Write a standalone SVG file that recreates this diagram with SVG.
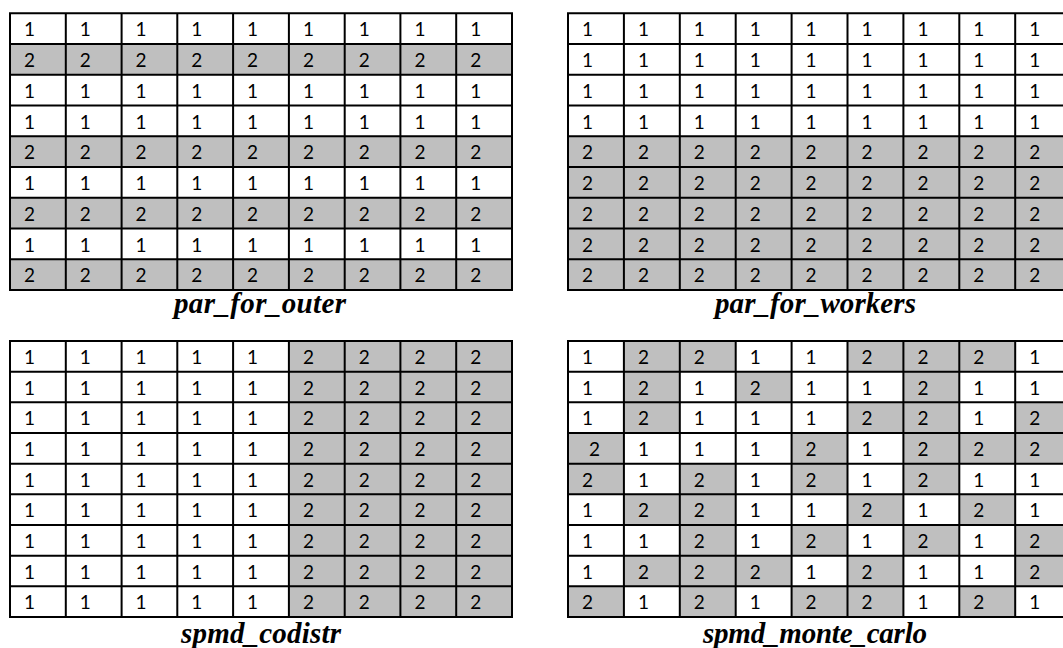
<svg xmlns="http://www.w3.org/2000/svg" width="1063" height="648" viewBox="0 0 1063 648">
<style>
.g{fill:#BFBFBF}
.ln{fill:none;stroke:#000;stroke-width:2;stroke-linecap:square}
.t{font-family:Lato,"Liberation Sans",sans-serif;font-size:19px;fill:#000}
.lb{font-family:"Liberation Serif","Times New Roman",serif;font-size:29px;font-weight:bold;font-style:italic;fill:#000}
</style>
<rect width="1063" height="648" fill="#fff"/>

<g id="grid-par-for-outer">
<rect class="g" x="10" y="44.0" width="502" height="30.8"/>
<rect class="g" x="10" y="136.3" width="502" height="30.7"/>
<rect class="g" x="10" y="197.7" width="502" height="30.8"/>
<rect class="g" x="10" y="259.2" width="502" height="30.8"/>
<path class="ln" d="M10 13.3V290M65.8 13.3V290M121.6 13.3V290M177.3 13.3V290M233.1 13.3V290M288.9 13.3V290M344.7 13.3V290M400.4 13.3V290M456.2 13.3V290M512 13.3V290M10 13.3H512M10 44H512M10 74.8H512M10 105.5H512M10 136.3H512M10 167H512M10 197.7H512M10 228.5H512M10 259.2H512M10 290H512"/>
<g class="t">
<text x="24 79.8 135.6 191.3 247.1 302.9 358.7 414.4 470.2" y="36.3">111111111</text>
<text x="24 79.8 135.6 191.3 247.1 302.9 358.7 414.4 470.2" y="67">222222222</text>
<text x="24 79.8 135.6 191.3 247.1 302.9 358.7 414.4 470.2" y="97.8">111111111</text>
<text x="24 79.8 135.6 191.3 247.1 302.9 358.7 414.4 470.2" y="128.5">111111111</text>
<text x="24 79.8 135.6 191.3 247.1 302.9 358.7 414.4 470.2" y="159.3">222222222</text>
<text x="24 79.8 135.6 191.3 247.1 302.9 358.7 414.4 470.2" y="190">111111111</text>
<text x="24 79.8 135.6 191.3 247.1 302.9 358.7 414.4 470.2" y="220.7">222222222</text>
<text x="24 79.8 135.6 191.3 247.1 302.9 358.7 414.4 470.2" y="251.5">111111111</text>
<text x="24 79.8 135.6 191.3 247.1 302.9 358.7 414.4 470.2" y="282.2">222222222</text>
</g>
<text class="lb" x="174" y="313" textLength="172" lengthAdjust="spacing">par_for_outer</text>
</g>

<g id="grid-par-for-workers">
<rect class="g" x="568" y="136.3" width="503" height="153.7"/>
<path class="ln" d="M568 13.3V290M623.9 13.3V290M679.8 13.3V290M735.7 13.3V290M791.6 13.3V290M847.5 13.3V290M903.4 13.3V290M959.3 13.3V290M1015.2 13.3V290M1071.1 13.3V290M568 13.3H1071.1M568 44H1071.1M568 74.8H1071.1M568 105.5H1071.1M568 136.3H1071.1M568 167H1071.1M568 197.7H1071.1M568 228.5H1071.1M568 259.2H1071.1M568 290H1071.1"/>
<g class="t">
<text x="582 637.9 693.8 749.7 805.6 861.5 917.4 973.3 1029.2" y="36.3">111111111</text>
<text x="582 637.9 693.8 749.7 805.6 861.5 917.4 973.3 1029.2" y="67">111111111</text>
<text x="582 637.9 693.8 749.7 805.6 861.5 917.4 973.3 1029.2" y="97.8">111111111</text>
<text x="582 637.9 693.8 749.7 805.6 861.5 917.4 973.3 1029.2" y="128.5">111111111</text>
<text x="582 637.9 693.8 749.7 805.6 861.5 917.4 973.3 1029.2" y="159.3">222222222</text>
<text x="582 637.9 693.8 749.7 805.6 861.5 917.4 973.3 1029.2" y="190">222222222</text>
<text x="582 637.9 693.8 749.7 805.6 861.5 917.4 973.3 1029.2" y="220.7">222222222</text>
<text x="582 637.9 693.8 749.7 805.6 861.5 917.4 973.3 1029.2" y="251.5">222222222</text>
<text x="582 637.9 693.8 749.7 805.6 861.5 917.4 973.3 1029.2" y="282.2">222222222</text>
</g>
<text class="lb" x="715" y="313" textLength="201" lengthAdjust="spacing">par_for_workers</text>
</g>

<g id="grid-spmd-codistr">
<rect class="g" x="288.9" y="341" width="223.1" height="276"/>
<path class="ln" d="M10 341V617M65.8 341V617M121.6 341V617M177.3 341V617M233.1 341V617M288.9 341V617M344.7 341V617M400.4 341V617M456.2 341V617M512 341V617M10 341H512M10 371.7H512M10 402.3H512M10 433H512M10 463.7H512M10 494.3H512M10 525H512M10 555.7H512M10 586.3H512M10 617H512"/>
<g class="t">
<text x="24 79.8 135.6 191.3 247.1 302.9 358.7 414.4 470.2" y="364">111112222</text>
<text x="24 79.8 135.6 191.3 247.1 302.9 358.7 414.4 470.2" y="394.7">111112222</text>
<text x="24 79.8 135.6 191.3 247.1 302.9 358.7 414.4 470.2" y="425.3">111112222</text>
<text x="24 79.8 135.6 191.3 247.1 302.9 358.7 414.4 470.2" y="456">111112222</text>
<text x="24 79.8 135.6 191.3 247.1 302.9 358.7 414.4 470.2" y="486.7">111112222</text>
<text x="24 79.8 135.6 191.3 247.1 302.9 358.7 414.4 470.2" y="517.4">111112222</text>
<text x="24 79.8 135.6 191.3 247.1 302.9 358.7 414.4 470.2" y="548">111112222</text>
<text x="24 79.8 135.6 191.3 247.1 302.9 358.7 414.4 470.2" y="578.7">111112222</text>
<text x="24 79.8 135.6 191.3 247.1 302.9 358.7 414.4 470.2" y="609.4">111112222</text>
</g>
<text class="lb" x="181" y="643" textLength="160" lengthAdjust="spacing">spmd_codistr</text>
</g>

<g id="grid-spmd-monte-carlo">
<rect class="g" x="623.9" y="341" width="111.8" height="30.7"/>
<rect class="g" x="847.5" y="341" width="167.7" height="30.7"/>
<rect class="g" x="623.9" y="371.7" width="55.9" height="30.6"/>
<rect class="g" x="735.7" y="371.7" width="55.9" height="30.6"/>
<rect class="g" x="903.4" y="371.7" width="55.9" height="30.6"/>
<rect class="g" x="623.9" y="402.3" width="55.9" height="30.7"/>
<rect class="g" x="847.5" y="402.3" width="111.8" height="30.7"/>
<rect class="g" x="1015.2" y="402.3" width="55.9" height="30.7"/>
<rect class="g" x="568" y="433" width="55.9" height="30.7"/>
<rect class="g" x="791.6" y="433" width="55.9" height="30.7"/>
<rect class="g" x="903.4" y="433" width="167.7" height="30.7"/>
<rect class="g" x="568" y="463.7" width="55.9" height="30.6"/>
<rect class="g" x="679.8" y="463.7" width="55.9" height="30.6"/>
<rect class="g" x="791.6" y="463.7" width="55.9" height="30.6"/>
<rect class="g" x="903.4" y="463.7" width="55.9" height="30.6"/>
<rect class="g" x="623.9" y="494.3" width="111.8" height="30.7"/>
<rect class="g" x="847.5" y="494.3" width="55.9" height="30.7"/>
<rect class="g" x="959.3" y="494.3" width="55.9" height="30.7"/>
<rect class="g" x="679.8" y="525" width="55.9" height="30.7"/>
<rect class="g" x="791.6" y="525" width="55.9" height="30.7"/>
<rect class="g" x="903.4" y="525" width="55.9" height="30.7"/>
<rect class="g" x="1015.2" y="525" width="55.9" height="30.7"/>
<rect class="g" x="623.9" y="555.7" width="167.7" height="30.6"/>
<rect class="g" x="847.5" y="555.7" width="55.9" height="30.6"/>
<rect class="g" x="1015.2" y="555.7" width="55.9" height="30.6"/>
<rect class="g" x="568" y="586.3" width="55.9" height="30.7"/>
<rect class="g" x="679.8" y="586.3" width="55.9" height="30.7"/>
<rect class="g" x="791.6" y="586.3" width="111.8" height="30.7"/>
<rect class="g" x="959.3" y="586.3" width="55.9" height="30.7"/>
<path class="ln" d="M568 341V617M623.9 341V617M679.8 341V617M735.7 341V617M791.6 341V617M847.5 341V617M903.4 341V617M959.3 341V617M1015.2 341V617M1071.1 341V617M568 341H1071.1M568 371.7H1071.1M568 402.3H1071.1M568 433H1071.1M568 463.7H1071.1M568 494.3H1071.1M568 525H1071.1M568 555.7H1071.1M568 586.3H1071.1M568 617H1071.1"/>
<g class="t">
<text x="582 637.9 693.8 749.7 805.6 861.5 917.4 973.3 1029.2" y="364">122112221</text>
<text x="582 637.9 693.8 749.7 805.6 861.5 917.4 973.3 1029.2" y="394.7">121211211</text>
<text x="582 637.9 693.8 749.7 805.6 861.5 917.4 973.3 1029.2" y="425.3">121112212</text>
<text x="589 637.9 693.8 749.7 805.6 861.5 917.4 973.3 1029.2" y="456">211121222</text>
<text x="582 637.9 693.8 749.7 805.6 861.5 917.4 973.3 1029.2" y="486.7">212121211</text>
<text x="582 637.9 693.8 749.7 805.6 861.5 917.4 973.3 1029.2" y="517.4">122112121</text>
<text x="582 637.9 693.8 749.7 805.6 861.5 917.4 973.3 1029.2" y="548">112121212</text>
<text x="582 637.9 693.8 749.7 805.6 861.5 917.4 973.3 1029.2" y="578.7">122212112</text>
<text x="582 637.9 693.8 749.7 805.6 861.5 917.4 973.3 1029.2" y="609.4">212122121</text>
</g>
<text class="lb" x="703" y="643" textLength="224" lengthAdjust="spacing">spmd_monte_carlo</text>
</g>
</svg>
